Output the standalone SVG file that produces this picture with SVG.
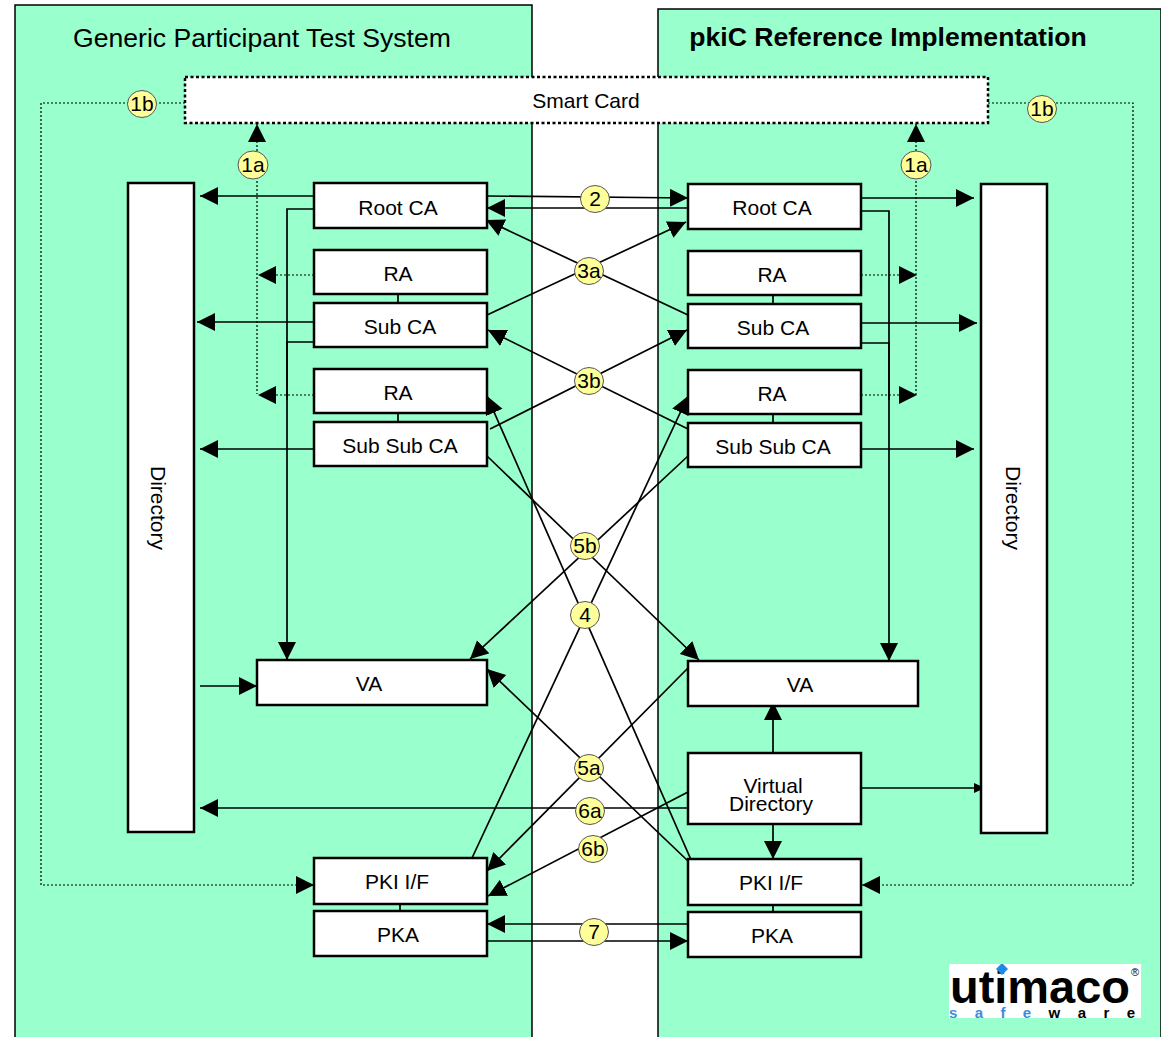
<svg xmlns="http://www.w3.org/2000/svg" width="1161" height="1037" viewBox="0 0 1161 1037">
<style>
text{font-family:"Liberation Sans",Arial,sans-serif;fill:#000}
.panel{fill:#99ffcc;stroke:#000;stroke-width:1.5}
.n{fill:#fff;stroke:#000;stroke-width:2.5}
.t{font-size:21px;text-anchor:middle}
.b{fill:#ffff99;stroke:#555;stroke-width:1}
.bt{font-size:21px;text-anchor:middle}
.c{fill:none;stroke:#000;stroke-width:1.7}
.d{fill:none;stroke:#000;stroke-width:1.2;stroke-dasharray:2 2}
.a{marker-end:url(#arr)}
</style>
<defs>
<marker id="arr" markerUnits="userSpaceOnUse" markerWidth="20" markerHeight="20" refX="18" refY="9" orient="auto"><path d="M0 0L18 9L0 18Z" fill="#000"/></marker>
<marker id="sm" markerUnits="userSpaceOnUse" markerWidth="12" markerHeight="12" refX="11" refY="5" orient="auto"><path d="M0 0L11 5L0 10Z" fill="#000"/></marker>
<clipPath id="logoclip"><rect x="949" y="964" width="192" height="54"/></clipPath>
</defs>
<rect width="1161" height="1037" fill="#fff"/>
<g id="panel-left"><path class="panel" d="M15 1037V5H532V1037"/><text x="262" y="47" font-size="26.6" text-anchor="middle">Generic Participant Test System</text></g>
<g id="panel-right"><path class="panel" d="M658 1037V9H1161V1037" /><text x="888" y="46" font-size="26.6" font-weight="bold" text-anchor="middle">pkiC Reference Implementation</text></g>
<g id="connectors">
<path class="d" d="M257 141V394"/><path class="d a" d="M257 141V124"/>
<path class="d a" d="M314 275H258"/><path class="d a" d="M314 395H258"/>
<path class="d" d="M916 141V396"/><path class="d a" d="M916 141V124"/>
<path class="d a" d="M861 275H917"/><path class="d a" d="M861 395H917"/>
<path class="d a" d="M185 103H41V885H314"/>
<path class="d a" d="M988 103H1133V885H862"/>
<path class="c a" d="M314 196H200"/><path class="c a" d="M314 322H197"/><path class="c a" d="M314 449H200"/>
<path class="c a" d="M314 209H287V660"/><path class="c" d="M314 342H287V400"/>
<path class="c a" d="M200 686H257"/>
<path class="c a" d="M861 198H974"/><path class="c a" d="M861 323H977"/><path class="c a" d="M861 449H974"/>
<path class="c a" d="M861 211H889V661"/><path class="c" d="M861 343H889V400"/>
<path class="c a" d="M487 196L688 198"/><path class="c a" d="M688 208H487"/>
<path class="c a" d="M688 315L486 220"/><path class="c a" d="M487 315L686 222"/>
<path class="c a" d="M688 429L488 330"/><path class="c a" d="M490 429L687 330"/>
<path class="c a" d="M692 862L487 396"/><path class="c a" d="M472 858L688 396"/>
<path class="c a" d="M487 456L699 660"/><path class="c a" d="M688 456L470 659"/>
<path class="c a" d="M688 668L487 871"/><path class="c a" d="M688 861L487 669"/>
<path class="c a" d="M688 808H200"/><path class="c a" d="M688 792L488 896"/>
<path class="c a" d="M688 924H487"/><path class="c a" d="M487 941H688"/>
<path class="c a" d="M773 753V702"/><path class="c a" d="M773 824V859"/>
<path class="c" style="marker-end:url(#sm)" d="M862 788H985"/>
<path class="c" d="M398 294V303M398 413V422M400 904V911M773 295V304M773 414V423M773 905V912"/>
</g>
<g id="smart-card"><rect x="185" y="77" width="803" height="46" fill="#fff" stroke="#000" stroke-width="2.5" stroke-dasharray="3 2.5"/><text class="t" x="586" y="108">Smart Card</text></g>
<g id="dir-left"><rect class="n" x="128" y="183" width="66" height="649"/><text class="t" transform="translate(151 508) rotate(90)">Directory</text></g>
<g id="dir-right"><rect class="n" x="981" y="184" width="66" height="649"/><text class="t" transform="translate(1006 508) rotate(90)">Directory</text></g>
<g id="l-root"><rect class="n" x="314" y="183" width="173" height="45"/><text class="t" x="398" y="215">Root CA</text></g>
<g id="l-ra1"><rect class="n" x="314" y="250" width="173" height="44"/><text class="t" x="398" y="281">RA</text></g>
<g id="l-sub"><rect class="n" x="314" y="303" width="173" height="44"/><text class="t" x="400" y="334">Sub CA</text></g>
<g id="l-ra2"><rect class="n" x="314" y="369" width="173" height="44"/><text class="t" x="398" y="400">RA</text></g>
<g id="l-subsub"><rect class="n" x="314" y="422" width="173" height="44"/><text class="t" x="400" y="453">Sub Sub CA</text></g>
<g id="l-va"><rect class="n" x="257" y="660" width="230" height="45"/><text class="t" x="369" y="691">VA</text></g>
<g id="l-pki"><rect class="n" x="314" y="858" width="173" height="46"/><text class="t" x="397" y="889">PKI I/F</text></g>
<g id="l-pka"><rect class="n" x="314" y="911" width="173" height="45"/><text class="t" x="398" y="942">PKA</text></g>
<g id="r-root"><rect class="n" x="688" y="184" width="173" height="45"/><text class="t" x="772" y="215">Root CA</text></g>
<g id="r-ra1"><rect class="n" x="688" y="251" width="173" height="44"/><text class="t" x="772" y="282">RA</text></g>
<g id="r-sub"><rect class="n" x="688" y="304" width="173" height="44"/><text class="t" x="773" y="335">Sub CA</text></g>
<g id="r-ra2"><rect class="n" x="688" y="370" width="173" height="44"/><text class="t" x="772" y="401">RA</text></g>
<g id="r-subsub"><rect class="n" x="688" y="423" width="173" height="44"/><text class="t" x="773" y="454">Sub Sub CA</text></g>
<g id="r-va"><rect class="n" x="688" y="661" width="230" height="45"/><text class="t" x="800" y="692">VA</text></g>
<g id="r-vd"><rect class="n" x="688" y="753" width="173" height="71"/><text class="t" x="773" y="793">Virtual</text><text class="t" x="771" y="811">Directory</text></g>
<g id="r-pki"><rect class="n" x="688" y="859" width="173" height="46"/><text class="t" x="771" y="890">PKI I/F</text></g>
<g id="r-pka"><rect class="n" x="688" y="912" width="173" height="45"/><text class="t" x="772" y="943">PKA</text></g>
<g id="badges">
<ellipse class="b" cx="142" cy="104" rx="14.5" ry="13.5"/><text class="bt" x="142" y="111">1b</text>
<ellipse class="b" cx="253" cy="165" rx="15" ry="14"/><text class="bt" x="253" y="172">1a</text>
<ellipse class="b" cx="916" cy="165" rx="15" ry="14"/><text class="bt" x="916" y="172">1a</text>
<ellipse class="b" cx="1042" cy="109" rx="14.5" ry="13.5"/><text class="bt" x="1042" y="116">1b</text>
<ellipse class="b" cx="595" cy="199" rx="14.5" ry="13.5"/><text class="bt" x="595" y="206">2</text>
<ellipse class="b" cx="589" cy="271" rx="14.5" ry="13.5"/><text class="bt" x="589" y="278">3a</text>
<ellipse class="b" cx="589" cy="381" rx="14.5" ry="13.5"/><text class="bt" x="589" y="388">3b</text>
<ellipse class="b" cx="585" cy="546" rx="14.5" ry="13.5"/><text class="bt" x="585" y="553">5b</text>
<ellipse class="b" cx="585" cy="615" rx="14.5" ry="13.5"/><text class="bt" x="585" y="622">4</text>
<ellipse class="b" cx="589" cy="768" rx="14.5" ry="13.5"/><text class="bt" x="589" y="775">5a</text>
<ellipse class="b" cx="590" cy="811" rx="14.5" ry="13.5"/><text class="bt" x="590" y="818">6a</text>
<ellipse class="b" cx="593" cy="849" rx="14.5" ry="13.5"/><text class="bt" x="593" y="856">6b</text>
<ellipse class="b" cx="594" cy="932" rx="14.5" ry="13.5"/><text class="bt" x="594" y="939">7</text>
</g>
<g id="logo" clip-path="url(#logoclip)">
<rect x="949" y="964" width="192" height="54" fill="#fff"/>
<text x="950" y="1003" font-size="46" font-weight="bold" textLength="180" lengthAdjust="spacingAndGlyphs" fill="#111">utimaco</text>
<path d="M1002 963L1008 969L1002 975L996 969Z" fill="#1e88e5"/>
<text x="1131" y="976" font-size="11" fill="#555">®</text>
<text x="949" y="1018" font-size="15" font-weight="bold" textLength="186" fill="#333"><tspan fill="#3d8ce0">safe</tspan>ware</text>
</g>
</svg>
